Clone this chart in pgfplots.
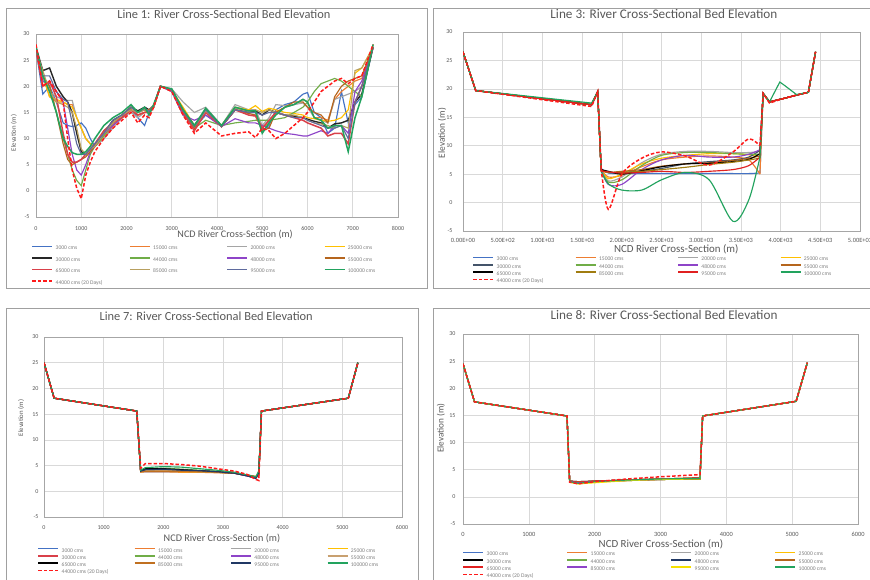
\documentclass[border=0pt]{standalone}
\usepackage{pgfplots}
\pgfplotsset{compat=1.18}
\usepackage{pgfplotstable}
\usepackage{fontspec}
\setmainfont{Carlito}
\definecolor{txt}{HTML}{595959}
\definecolor{legc}{HTML}{808080}
\definecolor{gridc}{HTML}{D9D9D9}
\definecolor{axc}{HTML}{A6A6A6}
\definecolor{framec}{HTML}{A0A0A0}
% palette
\definecolor{cblue}{HTML}{4472C4}
\definecolor{corange}{HTML}{ED7D31}
\definecolor{cgray}{HTML}{A5A5A5}
\definecolor{cgold}{HTML}{FFC000}
\definecolor{cgreen}{HTML}{70AD47}
\definecolor{cpurple}{HTML}{8E44C8}
\definecolor{cbrown}{HTML}{B5651D}
\definecolor{cred}{HTML}{E02020}
\definecolor{cblack}{HTML}{262626}
\definecolor{ctan}{HTML}{B8A060}
\definecolor{cgblue}{HTML}{5F6B9E}
\definecolor{cteal}{HTML}{22A35E}
\definecolor{cpink}{HTML}{D9404A}
\definecolor{cslate}{HTML}{44546A}
\definecolor{colive}{HTML}{A07C10}
\definecolor{cnavy}{HTML}{203864}
\definecolor{cobrown}{HTML}{C07020}
\definecolor{cltan}{HTML}{C8A070}
\definecolor{cyellow}{HTML}{F5E000}
\definecolor{cdash}{HTML}{FF1A1A}

\pgfplotstableread{
x a b c d e f g h i j k l m
0 27 27 27 27 27.5 27 27 27 27 27 27 27.5 28
150 18.5 22 22 22 23 21 21 22 20 23 22 22 20
300 20 18 19 18 23.5 20 20.5 20 21 19 22 19 21
450 17 17 18 17.5 20 15 19 15 18 17 19 15 19
600 13 17 17.5 17 18 10 17 9 11 16.5 17.5 10 17
700 12.5 16.5 17.3 16.5 17 7 12 6 7 16 17 8.5 10
800 12.3 16.5 17.3 16 15 4 7 5 5.5 15 13 7.3 4
900 12.5 14 14 14 11 2 4 5.5 5.5 12 9 7 0.5
1000 13 12 12 12 7.5 1 3 6 6 8 7 7 -1.5
1100 12 10 10 10 7 4 5 6.5 7 7 7 7.5 3
1200 10 9 9 9 8 7 7.5 7.5 8 8 8 8.5 5.5
1300 8.5 8.5 8.5 8.5 8.5 8.5 8.5 8.5 9 8.5 9 10 7.5
1500 10 10.5 10 10.5 11 10.5 11 11.5 11.5 11 11 12.5 10
1700 12.5 12.5 12 13 13.5 13 12.5 13 13 13 13.5 14 12
1900 14 14 14 14 14.5 14.5 14 14.5 14 14.5 14.5 15 13.5
2100 15.5 15.5 15 15.5 16 16 15.5 16 15.5 15.5 16 16.5 15
2250 14 14.5 14 14.5 15.3 15 15 15 14.5 15 15 15 13
2400 12.5 15 15 15 16 15.5 15.5 15.5 15 15.5 15.8 16 14.5
2500 15 15 15 15.5 15.5 15 15 15.5 15 15.3 15.2 14.5 14
2600 16 16 16 16 16.3 16 16 16.3 16 16 16.3 16.5 16
2750 20 20 20 20 20 20 20 20 20 20 20 20 20
3000 19.3 19.3 19.5 19.3 19.3 19 19 19.3 19.3 19.3 19.3 19.5 19
3250 15 15 17 16 15.5 14.5 14.5 15.5 15 15.5 15.3 15.5 14.5
3500 12 12.5 15 12.5 12.5 12 13.5 12 11.5 12.3 12.3 12.5 11
3750 14.5 15 16 15.5 15.5 13.5 14.5 15.5 15 15.3 15.5 15.8 13
4100 12.5 12.5 12.5 12.5 12.3 12.5 12.3 12.3 12.3 12.5 12.3 12.5 10.5
4400 15.5 15.5 16.5 16 15.5 13 13.8 15.5 15.5 15.8 15.5 16 11
4700 15 15 15.5 15.5 15 13.3 13 14.8 14.5 15.2 15 15.3 11.3
4850 15 15.5 15.5 16.3 15.3 13.5 13 14.5 14.3 15.5 15 15.3 10.2
5000 11.5 12 12.5 15.2 14.5 13.5 12.5 11.5 12 15 14.5 11 12
5150 12.5 13 14 15.8 15.5 13.5 12 12 13.5 15.5 15 13 11.5
5300 15.5 15 16.5 15.5 15 13.7 11.5 15 15 15 15 14.5 10
5500 16.5 16 16.3 15 14.5 14 11 16 14.5 14.5 14.5 16 11
5700 17 16.5 16.5 14.8 14.3 15 10.8 17 14 14.5 14 16.5 12.5
5900 18.5 17.5 16.8 14.5 14 16 10.5 17 13.5 14 14 17.5 14
6000 18.8 17 16 14 13.7 17 10.5 16 13 13.5 13.5 17 15
6150 15 14 14 13.8 13.3 19 11 15 12.5 13 13 14 17
6300 14 14 13.5 13.5 13 20.5 11.5 14.5 12 12.8 12.5 13.5 19
6450 11 13.5 13 13.3 12 21 11 13 10.5 12.5 12 12 20
6600 12 17.5 17.5 13.5 12.8 21.5 12.5 18 11 12 12 12.5 21
6750 19 19 18 14 13 21 12.5 20 11 12.5 12.5 12.5 21.5
6900 13 20 18.5 15.5 13.5 20 11 21 9 12 10 7.5 20.5
7050 16.5 21 19 22.5 17 19 19 21.5 17 23 17 14 21.5
7200 18 21.5 20 23.5 18.5 18 21 22 20 23.5 20 18 22
7450 27.5 27.5 27.5 27.5 27.5 28 27.5 27.5 27.5 27.5 27.5 28 28
}\tA

% Line 3: left bank (straight), channel (smooth), right bank (straight)
\pgfplotstableread{
x a b c d e f g h i j k l m
0 26.5 26.5 26.5 26.5 26.5 26.5 26.5 26.5 26.5 26.5 26.5 26.5 26.5
160 19.7 19.7 19.7 19.7 19.7 19.7 19.7 19.7 19.7 19.7 19.7 19.7 19.7
1620 17.2 17.2 17.2 17.2 17.2 17.3 17.2 17.2 17.2 17.2 17.2 17.5 16.9
1696 19.5 19.5 19.5 19.5 19.5 19.5 19.5 19.5 19.5 19.5 19.5 19.5 19.5
1740 6.0 5.8 5.8 5.8 5.8 5.8 5.8 5.6 5.8 5.6 5.6 5.5 6.0
}\tBl
\pgfplotstableread{
x a b c d e f g h i j k l m
1740 6.0 5.8 5.8 5.8 5.8 5.8 5.8 5.6 5.8 5.6 5.6 5.5 6.0
1830 5.2 4.5 3.8 4.2 5.3 3.6 3.2 5.3 5.5 5.3 5.4 3.3 -1.2
2000 5.1 4.8 4.5 5.0 5.3 4.0 3.2 5.5 5.0 5.3 5.2 2.2 5.0
2250 5.1 6.3 7.0 6.8 5.5 6.5 5.8 5.8 5.6 5.5 5.3 2.2 7.8
2500 5.1 7.5 8.5 7.8 6.0 8.3 7.5 6.4 6.3 5.8 5.5 4.0 8.9
2800 5.1 8.0 9.0 8.3 6.8 8.8 8.3 6.8 6.8 6.2 5.3 5.3 8.2
3100 5.1 8.2 9.0 8.6 7.2 8.8 8.0 7.0 6.9 6.7 5.5 4.0 6.6
3400 5.1 8.0 8.8 8.6 7.5 8.6 8.0 7.4 7.2 7.1 5.8 -3.3 8.9
3600 5.1 7.5 8.8 8.4 8.0 8.5 8.5 7.8 7.6 7.5 6.5 0.5 11.2
3740 5.2 5.0 9.0 8.0 9.2 8.5 9.3 8.2 8.6 7.8 8.0 8.0 10.0
}\tBc
\pgfplotstableread{
x a b c d e f g h i j k l m
3740 5.2 5.0 9.0 8.0 9.2 8.5 9.3 8.2 8.6 7.8 8.0 8.0 10.0
3780 19.2 19.2 19.2 19.2 19.2 19.2 19.2 19.2 19.2 19.2 19.2 19.2 19.2
3860 17.7 17.7 17.7 17.7 17.7 17.7 17.7 17.7 17.7 17.7 17.7 17.7 17.5
3990 18.15 18.15 18.15 18.15 18.15 18.15 18.15 18.15 18.15 18.15 18.15 21.2 18.1
4050 18.35 18.35 18.35 18.35 18.35 18.35 18.35 18.35 18.35 18.35 18.35 20.6 18.35
4200 18.9 18.9 18.9 18.9 18.9 18.9 18.9 18.9 18.9 18.9 18.9 19.0 18.9
4350 19.4 19.4 19.4 19.4 19.4 19.4 19.4 19.4 19.4 19.4 19.4 19.4 19.4
4440 26.5 26.5 26.5 26.5 26.5 26.5 26.5 26.5 26.5 26.5 26.5 26.5 26.5
}\tBr

\pgfplotstableread{
x a b c d e f g h i j k l m
0 25 25 25 25 25 25 25 25 25 25 25 25 25
170 18.1 18.1 18.1 18.1 18.1 18.1 18.1 18.1 18.1 18.1 18.1 18.1 18.1
1555 15.6 15.6 15.6 15.6 15.6 15.6 15.6 15.6 15.6 15.6 15.6 15.6 15.6
1620 3.8 3.7 3.9 3.8 3.9 4.0 3.9 3.8 4.0 3.8 3.9 4.1 4.5
1700 3.8 3.8 4.0 3.9 4.0 4.3 4.1 4.0 4.4 3.9 4.2 4.6 5.4
2000 3.8 3.8 4.0 3.9 4.1 4.5 4.2 4.1 4.4 3.9 4.3 4.8 5.4
2300 3.8 3.7 3.9 3.8 4.0 4.3 4.1 4.0 4.2 3.9 4.1 4.7 5.2
2600 3.8 3.7 3.8 3.8 3.9 4.1 4.0 3.9 4.0 3.8 4.0 4.4 4.9
2900 3.7 3.6 3.7 3.7 3.8 3.9 3.8 3.7 3.8 3.7 3.8 4.1 4.4
3200 3.5 3.5 3.5 3.5 3.5 3.6 3.5 3.5 3.5 3.5 3.5 3.7 3.9
3400 3.0 3.2 3.1 3.1 3.0 3.1 3.0 3.1 3.1 3.2 3.0 3.2 3.3
3550 2.6 2.8 2.7 2.8 2.6 2.7 2.6 2.8 2.8 2.9 2.5 2.8 2.3
3600 3.5 3.3 3.4 3.3 3.2 3.5 3.3 3.3 3.3 3.3 3.6 4.0 2.1
3645 15.6 15.6 15.6 15.6 15.6 15.6 15.6 15.6 15.6 15.6 15.6 15.6 15.6
5100 18.1 18.1 18.1 18.1 18.1 18.1 18.1 18.1 18.1 18.1 18.1 18.1 18.1
5260 25 25 25 25 25 25 25 25 25 25 25 25 25
}\tC

\pgfplotstableread{
x a b c d e f g h i j k l m
0 24.5 24.5 24.5 24.5 24.5 24.5 24.5 24.5 24.5 24.5 24.5 24.5 24.5
175 17.5 17.5 17.5 17.5 17.5 17.5 17.5 17.5 17.5 17.5 17.5 17.5 17.5
1580 14.9 14.9 14.9 14.9 14.9 14.9 14.9 14.9 14.9 14.9 14.9 14.9 14.9
1620 2.8 2.8 2.8 2.7 2.9 2.8 2.9 2.9 2.9 2.8 2.7 2.8 2.7
1750 2.6 2.6 2.6 2.4 2.8 2.5 2.7 2.8 2.7 2.6 2.4 2.5 2.4
2000 2.8 2.8 2.8 2.7 2.9 2.8 2.9 2.9 2.9 2.8 2.6 2.8 2.8
2500 3.0 3.0 3.0 3.0 3.1 3.1 3.1 3.1 3.1 3.0 3.0 3.1 3.3
3000 3.2 3.2 3.2 3.2 3.2 3.3 3.3 3.3 3.3 3.2 3.2 3.3 3.7
3600 3.3 3.4 3.3 3.3 3.3 3.5 3.4 3.5 3.5 3.4 3.3 3.4 4.1
3640 14.9 14.9 14.9 14.9 14.9 14.9 14.9 14.9 14.9 14.9 14.9 14.9 14.9
5060 17.6 17.6 17.6 17.6 17.6 17.6 17.6 17.6 17.6 17.6 17.6 17.6 17.6
5230 24.7 24.7 24.7 24.7 24.7 24.7 24.7 24.7 24.7 24.7 24.7 24.7 24.7
}\tD

\newcommand\LA[1]{\makebox[74.7pt][l]{\hspace{2pt}#1}}
\newcommand\LB[1]{\makebox[79.7pt][l]{\hspace{2pt}#1}}
\newcommand\LC[1]{\makebox[73.7pt][l]{\hspace{2pt}#1}}
\newcommand\LD[1]{\makebox[81.3pt][l]{\hspace{2pt}#1}}
\newcommand\PB[2]{%
  \addplot[#1] table[x=x,y=#2]{\tBl};
  \addplot[#1,smooth,forget plot] table[x=x,y=#2]{\tBc};
  \addplot[#1,forget plot] table[x=x,y=#2]{\tBr};
}

\pgfplotsset{
  panel/.style={
    scale only axis,
    ymin=-5, ymax=30, ytick={-5,0,...,30},
    grid=major,
    major grid style={draw=gridc, line width=0.6pt},
    axis line style={draw=axc, line width=0.7pt},
    tick style={draw=none},
    ticklabel style={font=\fontsize{6}{7}\selectfont, text=txt},
    /pgf/number format/assume math mode=true,
    /pgf/number format/set thousands separator={},
    title style={anchor=center, font=\fontsize{12.4}{14}\selectfont, text=txt},
    xlabel style={anchor=center, font=\fontsize{10.1}{12}\selectfont, text=txt},
    ylabel style={anchor=center, font=\fontsize{6.8}{8}\selectfont, text=txt},
    xlabel={NCD River Cross-Section (m)},
    ylabel={Elevation (m)},
    legend columns=4,
    legend cell align=left,
    legend style={draw=none, fill=none, anchor=north west, inner sep=0pt, outer sep=0pt,
      nodes={inner sep=0.5pt, text height=4.5pt, text depth=1.2pt,
        font=\fontsize{5.6}{6}\selectfont, text=legc}},
    legend image code/.code={\draw[##1, line width=1.7pt] (0pt,1.8pt) -- (20pt,1.8pt);},
    every axis plot/.append style={line width=1.15pt, mark=none},
  },
  dsh/.style={cdash, line width=1.5pt, dash pattern=on 3.5pt off 2pt},
}

\begin{document}
\begin{tikzpicture}[x=1pt,y=1pt]
\path[use as bounding box] (0pt,0pt) rectangle (870pt,-580pt);
\fill[white] (0pt,0pt) rectangle (870pt,-580pt);
\draw[framec, line width=0.8pt] (6pt,-8pt) rectangle (427pt,-288pt);
\draw[framec, line width=0.8pt] (433pt,-8pt) rectangle (880pt,-288pt);
\draw[framec, line width=0.8pt] (6pt,-308pt) rectangle (418pt,-590pt);
\draw[framec, line width=0.8pt] (433pt,-308pt) rectangle (880pt,-590pt);

% ---------- Panel 1 ----------
\begin{axis}[panel, at={(36pt,-217pt)}, anchor=south west, width=362pt, height=183pt,
  xmin=0, xmax=8000, xtick={0,1000,...,8000},
  title={Line 1: River Cross-Sectional Bed Elevation},
  title style={at={(axis description cs:0.519,1.077)}},
  xlabel style={at={(axis description cs:0.550,-0.098)}},
  ylabel style={at={(axis description cs:-0.061,0.459)}},
  xticklabel style={yshift=-6pt}, yticklabel style={xshift=-3pt},
  legend style={at={(axis description cs:-0.0124,-0.153)}, row sep=4.8pt},
  legend entries={\LA{3000 cms},\LA{15000 cms},\LA{20000 cms},\LA{25000 cms},
    \LA{30000 cms},\LA{44000 cms},\LA{48000 cms},\LA{55000 cms},
    \LA{65000 cms},\LA{85000 cms},\LA{95000 cms},\LA{100000 cms},\LA{44000 cms (20 Days)}},
]
\addplot[cblue] table[x=x,y=a]{\tA};
\addplot[corange] table[x=x,y=b]{\tA};
\addplot[cgray] table[x=x,y=c]{\tA};
\addplot[cgold] table[x=x,y=d]{\tA};
\addplot[cblack, line width=1.4pt] table[x=x,y=e]{\tA};
\addplot[cgreen] table[x=x,y=f]{\tA};
\addplot[cpurple] table[x=x,y=g]{\tA};
\addplot[cbrown] table[x=x,y=h]{\tA};
\addplot[cpink, line width=1.5pt] table[x=x,y=i]{\tA};
\addplot[ctan] table[x=x,y=j]{\tA};
\addplot[cgblue] table[x=x,y=k]{\tA};
\addplot[cteal, line width=1.5pt] table[x=x,y=l]{\tA};
\addplot[dsh] table[x=x,y=m]{\tA};
\end{axis}

% ---------- Panel 2 ----------
\begin{axis}[panel, at={(463pt,-231pt)}, anchor=south west, width=397pt, height=199pt,
  xmin=0, xmax=5000, xtick={0,500,...,5000},
  xticklabels={0.00E+00,5.00E+02,1.00E+03,1.50E+03,2.00E+03,2.50E+03,3.00E+03,3.50E+03,4.00E+03,4.50E+03,5.00E+03},
  xticklabel style={font=\fontsize{6.4}{7}\selectfont, yshift=-4pt}, yticklabel style={xshift=-7pt},
  title={Line 3: River Cross-Sectional Bed Elevation},
  title style={at={(axis description cs:0.506,1.060)}, font=\fontsize{13.2}{15}\selectfont},
  xlabel style={at={(axis description cs:0.537,-0.090)}, font=\fontsize{10.9}{12}\selectfont},
  ylabel style={at={(axis description cs:-0.053,0.492)}, font=\fontsize{9.4}{11}\selectfont},
  legend style={at={(axis description cs:0.0239,-0.1256)}, row sep=0.6pt},
  legend entries={\LB{3000 cms},\LB{15000 cms},\LB{20000 cms},\LB{25000 cms},
    \LB{30000 cms},\LB{44000 cms},\LB{48000 cms},\LB{55000 cms},
    \LB{65000 cms},\LB{85000 cms},\LB{95000 cms},\LB{100000 cms},\LB{44000 cms (20 Days)}},
]
\PB{cblue}{a}
\PB{corange}{b}
\PB{cgray}{c}
\PB{cgold}{d}
\PB{cslate}{e}
\PB{cgreen}{f}
\PB{cpurple}{g}
\PB{cbrown}{h}
\PB{black}{i}
\PB{colive}{j}
\PB{cred}{k}
\PB{cteal}{l}
\PB{dsh}{m}
\end{axis}

% ---------- Panel 3 ----------
\begin{axis}[panel, at={(44pt,-517pt)}, anchor=south west, width=358pt, height=180pt,
  xmin=0, xmax=6000, xtick={0,1000,...,6000},
  title={Line 7: River Cross-Sectional Bed Elevation},
  title style={at={(axis description cs:0.453,1.083)}},
  xlabel style={at={(axis description cs:0.497,-0.117)}, font=\fontsize{10.2}{12}\selectfont},
  ylabel style={at={(axis description cs:-0.064,0.55)}},
  xticklabel style={yshift=-5pt}, yticklabel style={xshift=-2pt},
  legend style={at={(axis description cs:-0.0182,-0.1667)}, row sep=0.6pt},
  legend entries={\LC{3000 cms},\LC{15000 cms},\LC{20000 cms},\LC{25000 cms},
    \LC{30000 cms},\LC{44000 cms},\LC{48000 cms},\LC{55000 cms},
    \LC{65000 cms},\LC{85000 cms},\LC{95000 cms},\LC{100000 cms},\LC{44000 cms (20 Days)}},
]
\addplot[cblue] table[x=x,y=a]{\tC};
\addplot[corange] table[x=x,y=b]{\tC};
\addplot[cgray] table[x=x,y=c]{\tC};
\addplot[cgold] table[x=x,y=d]{\tC};
\addplot[cpink] table[x=x,y=e]{\tC};
\addplot[cgreen] table[x=x,y=f]{\tC};
\addplot[cpurple] table[x=x,y=g]{\tC};
\addplot[cltan] table[x=x,y=h]{\tC};
\addplot[black] table[x=x,y=i]{\tC};
\addplot[cobrown] table[x=x,y=j]{\tC};
\addplot[cnavy] table[x=x,y=k]{\tC};
\addplot[cteal] table[x=x,y=l]{\tC};
\addplot[dsh] table[x=x,y=m]{\tC};
\end{axis}

% ---------- Panel 4 ----------
\begin{axis}[panel, at={(463pt,-524pt)}, anchor=south west, width=395pt, height=190pt,
  xmin=0, xmax=6000, xtick={0,1000,...,6000},
  title={Line 8: River Cross-Sectional Bed Elevation},
  title style={at={(axis description cs:0.509,1.068)}, font=\fontsize{13.2}{15}\selectfont},
  xlabel style={at={(axis description cs:0.501,-0.105)}, font=\fontsize{10.9}{12}\selectfont},
  ylabel style={at={(axis description cs:-0.056,0.505)}, font=\fontsize{9.2}{11}\selectfont},
  xticklabel style={yshift=-5pt, font=\fontsize{6.4}{7}\selectfont}, yticklabel style={xshift=-4pt},
  legend style={at={(axis description cs:-0.0013,-0.142)}, row sep=0.6pt},
  legend entries={\LD{3000 cms},\LD{15000 cms},\LD{20000 cms},\LD{25000 cms},
    \LD{30000 cms},\LD{44000 cms},\LD{48000 cms},\LD{55000 cms},
    \LD{65000 cms},\LD{85000 cms},\LD{95000 cms},\LD{100000 cms},\LD{44000 cms (20 Days)}},
]
\addplot[cblue, line width=0.8pt] table[x=x,y=a]{\tD};
\addplot[corange, line width=0.8pt] table[x=x,y=b]{\tD};
\addplot[cgray] table[x=x,y=c]{\tD};
\addplot[cgold] table[x=x,y=d]{\tD};
\addplot[black] table[x=x,y=e]{\tD};
\addplot[cgreen] table[x=x,y=f]{\tD};
\addplot[cnavy] table[x=x,y=g]{\tD};
\addplot[cbrown] table[x=x,y=h]{\tD};
\addplot[cred] table[x=x,y=i]{\tD};
\addplot[cpurple] table[x=x,y=j]{\tD};
\addplot[cyellow] table[x=x,y=k]{\tD};
\addplot[cteal] table[x=x,y=l]{\tD};
\addplot[dsh] table[x=x,y=m]{\tD};
\end{axis}
\end{tikzpicture}
\end{document}
